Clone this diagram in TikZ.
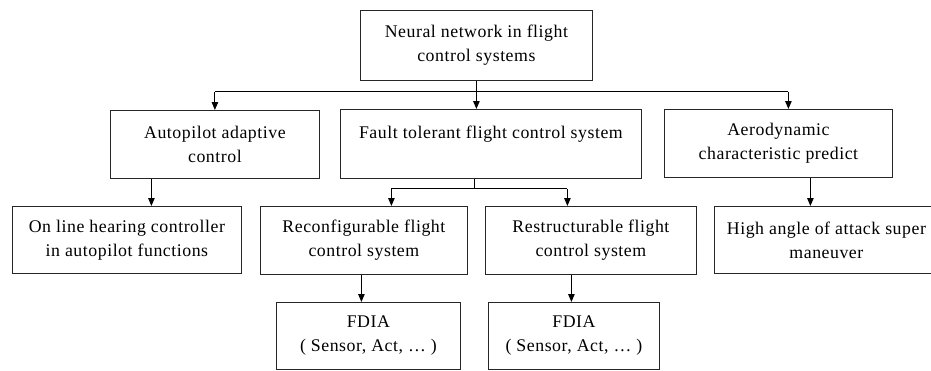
\documentclass[tikz,border=0pt]{standalone}
\usepackage{fontspec}
\setmainfont{Liberation Serif}[LetterSpace=3]
\usetikzlibrary{arrows.meta,calc}

\tikzset{
  box/.style={draw=black!85, line width=0.8pt, rectangle, anchor=north west,
    align=center, inner sep=0pt, font=\fontsize{17.8}{24}\selectfont},
  link/.style={draw=black, line width=1pt},
  arr/.style={link, -{Triangle[length=8pt,width=6.5pt]}},
}

\begin{document}
\begin{tikzpicture}[x=1pt,y=-1pt]
\path[use as bounding box] (0,0) rectangle (931,370);
\clip (0,0) rectangle (931,370);

% level 0
\node[box, minimum width=232pt, minimum height=70pt] (top) at (360,10)
  {Neural network in flight\\control systems};

% level 1
\node[box, minimum width=209pt, minimum height=68pt] (auto) at (110,110)
  {Autopilot adaptive\\control};
\node[box, minimum width=301pt, minimum height=69pt] (fault) at (340,109)
  {Fault tolerant flight control system\\\mbox{}};
\node[box, minimum width=228pt, minimum height=68pt] (aero) at (664,109)
  {Aerodynamic\\characteristic predict};

% level 2
\node[box, minimum width=229pt, minimum height=67pt] (online) at (12,206)
  {On line hearing controller\\in autopilot functions};
\node[box, minimum width=207pt, minimum height=68pt] (reconf) at (260,206)
  {Reconfigurable flight\\control system};
\node[box, minimum width=211pt, minimum height=68pt] (restr) at (485,206)
  {Restructurable flight\\control system};
\node[box, minimum width=224pt, minimum height=67pt] (high) at (714,206)
  {High angle of attack super\\maneuver};

% level 3
\node[box, minimum width=184pt, minimum height=67pt] (fdiaA) at (276,302)
  {FDIA\\( Sensor, Act, … )};
\node[box, minimum width=171pt, minimum height=67pt] (fdiaB) at (488,302)
  {FDIA\\( Sensor, Act, … )};

% top split
\coordinate (hub) at ($(top.south)+(0,11)$);
\coordinate (aeroIn) at ([xshift=10pt]aero.north);
\draw[arr] (top.south) -- (top.south |- fault.north);
\draw[link] (hub -| auto.north) -- (hub -| aeroIn);
\draw[arr] (hub -| auto.north) -- (auto.north);
\draw[arr] (hub -| aeroIn) -- (aeroIn);

% fault tolerant split
\coordinate (fOut) at ([xshift=-16.5pt]fault.south);
\coordinate (fHub) at ($(fOut)+(0,10)$);
\coordinate (rIn) at ([xshift=27.5pt]reconf.north);
\coordinate (sIn) at ([xshift=-23.5pt]restr.north);
\draw[link] (fOut) -- (fHub);
\draw[link] (fHub -| rIn) -- (fHub -| sIn);
\draw[arr] (fHub -| rIn) -- (rIn);
\draw[arr] (fHub -| sIn) -- (sIn);

% single links
\draw[arr] ([xshift=-63.5pt]auto.south) -- ([xshift=-63.5pt]auto.south |- online.north);
\draw[arr] ([xshift=32pt]aero.south) -- ([xshift=32pt]aero.south |- high.north);
\draw[arr] ([xshift=-2.5pt]reconf.south) -- ([xshift=-2.5pt]reconf.south |- fdiaA.north);
\draw[arr] ([xshift=-2.5pt]fdiaB.north |- restr.south) -- ([xshift=-2.5pt]fdiaB.north);
\end{tikzpicture}
\end{document}
